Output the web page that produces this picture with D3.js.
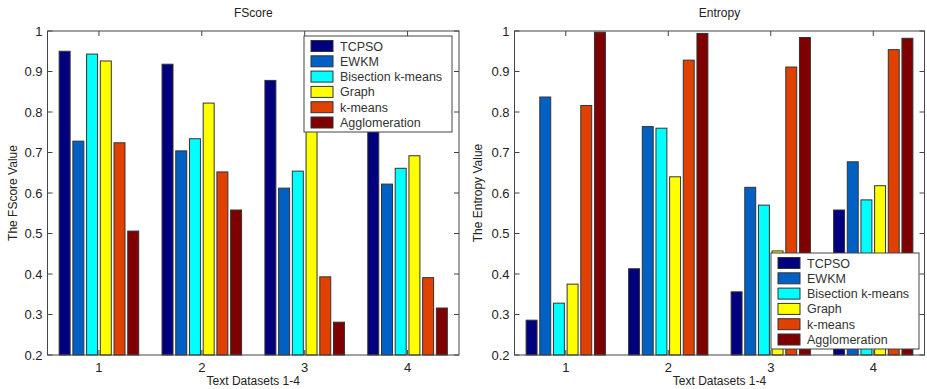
<!DOCTYPE html>
<html>
<head>
<meta charset="utf-8">
<script src="https://cdn.jsdelivr.net/npm/d3@7/dist/d3.min.js"></script>
<style>
  body { margin: 0; background: #fff; }
  svg { display: block; font-family: "Liberation Sans", Arial, sans-serif; }
</style>
</head>
<body>
<div id="chart"></div>
<script>
// Datasets on the x axis
const categories = [1, 2, 3, 4];
const seriesNames = ["TCPSO", "EWKM", "Bisection k-means", "Graph", "k-means", "Agglomeration"];
const seriesColors = ["#00007f", "#0060c4", "#00ffff", "#ffff00", "#e04000", "#7f0000"];
const yTicks = [0.2, 0.3, 0.4, 0.5, 0.6, 0.7, 0.8, 0.9, 1];

// FScore values, one array per method (datasets 1-4)
const fTCPSO      = [0.950, 0.918, 0.878, 0.820];
const fEWKM       = [0.728, 0.704, 0.612, 0.622];
const fBisection  = [0.943, 0.734, 0.654, 0.661];
const fGraph      = [0.926, 0.822, 0.780, 0.692];
const fKmeans     = [0.724, 0.652, 0.393, 0.391];
const fAgglom     = [0.506, 0.558, 0.281, 0.316];

// Entropy values
const eTCPSO      = [0.286, 0.413, 0.356, 0.558];
const eEWKM       = [0.837, 0.764, 0.614, 0.677];
const eBisection  = [0.328, 0.760, 0.570, 0.583];
const eGraph      = [0.375, 0.640, 0.457, 0.618];
const eKmeans     = [0.816, 0.928, 0.911, 0.954];
const eAgglom     = [0.997, 0.994, 0.984, 0.982];

const width = 927, height = 389;

const svg = d3.select("#chart").append("svg")
    .attr("width", width)
    .attr("height", height);

function drawPanel({ left, right, top, bottom, title, yLabel, yLabelX, series, legendPos }) {
    const g = svg.append("g");

    const x = d3.scaleLinear().domain([0.5, 4.5]).range([left, right]);
    const y = d3.scaleLinear().domain([0.2, 1]).range([bottom, top]);

    // MATLAB style grouped bars: group width 0.8, bar width 0.8 of slot
    const n = series.length;
    const groupW = 0.8;
    const slot = groupW / n;
    const barW = slot * 0.8;

    series.forEach((vals, i) => {
        g.selectAll(null)
            .data(vals)
            .enter()
            .append("rect")
            .attr("x", (d, j) => x(categories[j] - groupW / 2 + slot * (i + 0.5) - barW / 2))
            .attr("width", x(barW) - x(0))
            .attr("y", d => y(d))
            .attr("height", d => y(0.2) - y(d))
            .attr("fill", seriesColors[i])
            .attr("stroke", "#333")
            .attr("stroke-width", 1);
    });

    // axes box
    g.append("rect")
        .attr("x", left).attr("y", top)
        .attr("width", right - left).attr("height", bottom - top)
        .attr("fill", "none").attr("stroke", "#444").attr("stroke-width", 1);

    const tl = 5;
    // y ticks inside both sides
    yTicks.forEach(t => {
        g.append("line").attr("x1", left).attr("x2", left + tl)
            .attr("y1", y(t)).attr("y2", y(t)).attr("stroke", "#444");
        g.append("line").attr("x1", right).attr("x2", right - tl)
            .attr("y1", y(t)).attr("y2", y(t)).attr("stroke", "#444");
        g.append("text")
            .attr("x", left - 5).attr("y", y(t) + 4.5)
            .attr("text-anchor", "end")
            .style("font-size", "13px").style("fill", "#222")
            .text(t);
    });

    // x ticks inside top and bottom
    categories.forEach(c => {
        g.append("line").attr("x1", x(c)).attr("x2", x(c))
            .attr("y1", bottom).attr("y2", bottom - tl).attr("stroke", "#444");
        g.append("line").attr("x1", x(c)).attr("x2", x(c))
            .attr("y1", top).attr("y2", top + tl).attr("stroke", "#444");
        g.append("text")
            .attr("x", x(c)).attr("y", bottom + 17)
            .attr("text-anchor", "middle")
            .style("font-size", "13px").style("fill", "#222")
            .text(c);
    });

    // title and labels
    g.append("text")
        .attr("x", (left + right) / 2).attr("y", 17)
        .attr("text-anchor", "middle")
        .style("font-size", "12px").style("fill", "#222")
        .text(title);

    g.append("text")
        .attr("x", (left + right) / 2).attr("y", bottom + 30)
        .attr("text-anchor", "middle")
        .style("font-size", "12px").style("fill", "#222")
        .text("Text Datasets 1-4");

    g.append("text")
        .attr("transform", `translate(${yLabelX},${(top + bottom) / 2}) rotate(-90)`)
        .attr("text-anchor", "middle")
        .style("font-size", "12px").style("fill", "#222")
        .text(yLabel);

    // legend
    const lg = g.append("g").attr("transform", `translate(${legendPos[0]},${legendPos[1]})`);
    lg.append("rect")
        .attr("width", 148).attr("height", 96)
        .attr("fill", "#fff").attr("stroke", "#444");
    seriesNames.forEach((name, i) => {
        lg.append("rect")
            .attr("x", 7).attr("y", 4.5 + i * 15.3)
            .attr("width", 22).attr("height", 11)
            .attr("fill", seriesColors[i]).attr("stroke", "#333");
        lg.append("text")
            .attr("x", 36).attr("y", 14.5 + i * 15.3)
            .style("font-size", "12.5px").style("fill", "#333")
            .text(name);
    });
}

drawPanel({
    left: 47.5, right: 459, top: 31, bottom: 355,
    title: "FScore", yLabel: "The FScore Value", yLabelX: 17,
    series: [fTCPSO, fEWKM, fBisection, fGraph, fKmeans, fAgglom],
    legendPos: [304, 36]
});

drawPanel({
    left: 514.5, right: 924.5, top: 31, bottom: 355,
    title: "Entropy", yLabel: "The Entropy Value", yLabelX: 482,
    series: [eTCPSO, eEWKM, eBisection, eGraph, eKmeans, eAgglom],
    legendPos: [771, 253]
});
</script>
</body>
</html>
